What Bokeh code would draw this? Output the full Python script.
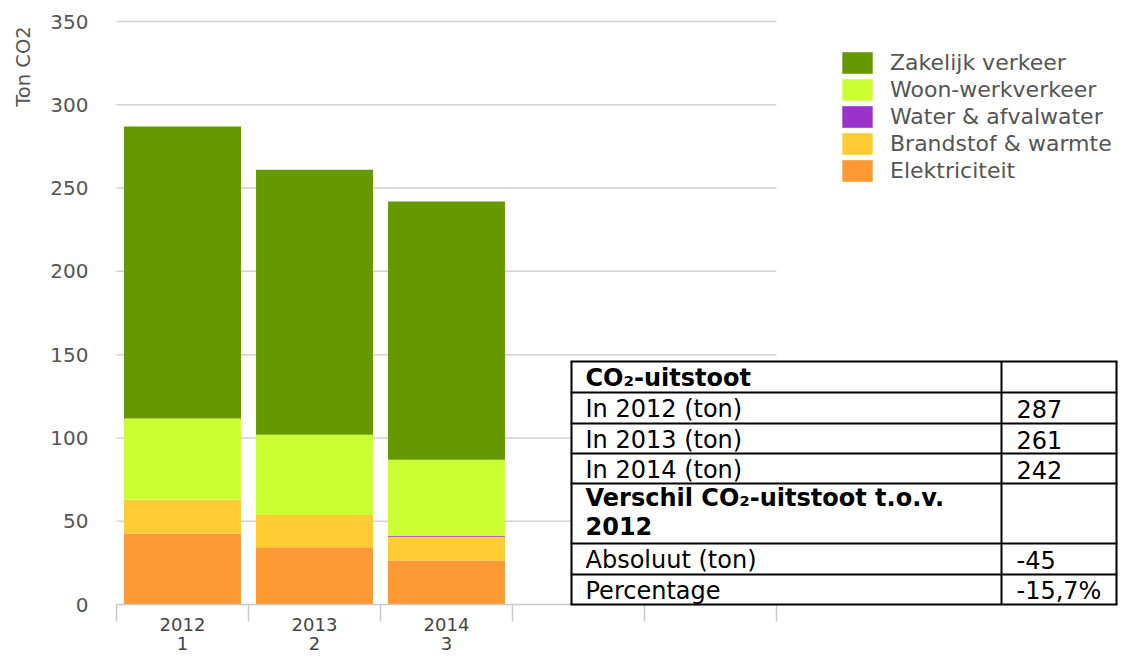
import math
from bokeh.plotting import figure
from bokeh.models import (Range1d, FixedTicker, Legend, LegendItem, ColumnDataSource,
                          Label, LinearAxis)
from bokeh.embed import file_html
from bokeh.resources import INLINE
from bokeh.core.properties import value

# ---------------- data ----------------
years = ["2012", "2013", "2014"]
year_index = ["1", "2", "3"]
n_slots = 5
series_names = ["Elektriciteit", "Brandstof & warmte", "Water & afvalwater",
                "Woon-werkverkeer", "Zakelijk verkeer"]
series_colors = ["#ff9933", "#ffcc33", "#9933cc", "#ccff33", "#669900"]
elektriciteit = [42.6, 34.4, 26.4]
brandstof = [20.4, 19.4, 14.3]
water = [0.0, 0.0, 0.6]
woon_werk = [48.6, 48.1, 45.6]
zakelijk = [175.4, 159.1, 155.1]
y_ticks = [0, 50, 100, 150, 200, 250, 300, 350]
y_title = "Ton CO2"

table_labels = ["CO\u2082-uitstoot", "In 2012 (ton)", "In 2013 (ton)", "In 2014 (ton)",
                "Verschil CO\u2082-uitstoot t.o.v.\n2012", "Absoluut (ton)", "Percentage"]
table_values = ["", "287", "261", "242", "", "-45", "-15,7%"]
table_bold = [True, False, False, False, True, False, False]

# ---------------- layout (screen px) ----------------
W, H = 1118, 655
X0_PX = 116          # left edge of first category slot
SLOT = 132.0         # px per category slot
Y0_PX, YTOP_PX = 604, 21
Y_MAX = 350
PPU = (Y0_PX - YTOP_PX) / Y_MAX

x_start = 0.5 - X0_PX / SLOT
x_end = 0.5 + (W - X0_PX) / SLOT
y_start = -(H - Y0_PX) / PPU
y_end = Y_MAX + YTOP_PX / PPU

def xd(px):
    return 0.5 + (px - X0_PX) / SLOT

def yd(py):
    return (Y0_PX - py) / PPU

FONT = "DejaVu Sans"
GRAY = "#555555"

p = figure(width=W, height=H, output_backend="svg", toolbar_location=None,
           x_range=Range1d(x_start, x_end), y_range=Range1d(y_start, y_end),
           x_axis_location=None, y_axis_location=None,
           min_border_left=0, min_border_top=0, min_border_right=0, min_border_bottom=0)
p.outline_line_color = None
p.xgrid.visible = False
p.ygrid.visible = False
p.background_fill_color = "white"
p.border_fill_color = "white"

# grid lines (only over the category slots)
gy = y_ticks[1:]
p.segment(x0=[0.5] * len(gy), x1=[n_slots + 0.5] * len(gy), y0=gy, y1=gy,
          line_color="#d2d2d2", line_width=1.5)

# stacked bars
xs = [i + 1 for i in range(len(years))]
src = ColumnDataSource(dict(x=xs, e=elektriciteit, b=brandstof, w=water,
                            ww=woon_werk, z=zakelijk))
rs = p.vbar_stack(["e", "b", "w", "ww", "z"], x="x", width=0.886, source=src,
                  fill_color=series_colors, line_color=None)

# x axis line + slot boundary ticks, fixed at y = 0
xa = LinearAxis(fixed_location=0)
xa.ticker = FixedTicker(ticks=xs, minor_ticks=[i + 0.5 for i in range(n_slots + 1)])
xa.bounds = (0.5, n_slots + 0.5)
xa.major_label_overrides = {x: "" for x in xs}
xa.major_tick_out = 0
xa.major_tick_in = 0
xa.major_tick_line_color = None
xa.minor_tick_out = 17
xa.minor_tick_in = 0
xa.minor_tick_line_color = "#c8c8c8"
xa.minor_tick_line_width = 1.5
xa.axis_line_color = "#c8c8c8"
xa.axis_line_width = 1.5
p.add_layout(xa, "below")

# category labels (two rows) under the slots
p.text(x=xs, y=[yd(624)] * len(xs), text=years, text_font=value(FONT),
       text_font_size="18px", text_color="#444444", text_align="center",
       text_baseline="middle")
p.text(x=xs, y=[yd(643)] * len(xs), text=year_index, text_font=value(FONT),
       text_font_size="18px", text_color="#444444", text_align="center",
       text_baseline="middle")

# y axis, fixed at the left edge of the slots
ya = LinearAxis(fixed_location=0.5)
ya.ticker = FixedTicker(ticks=y_ticks)
ya.axis_line_color = None
ya.major_tick_line_color = None
ya.minor_tick_line_color = None
ya.major_tick_out = 0
ya.major_tick_in = 0
ya.major_label_standoff = 28
ya.major_label_text_font = FONT
ya.major_label_text_font_size = "20px"
ya.major_label_text_color = GRAY
p.add_layout(ya, "left")

p.add_layout(Label(x=xd(23), y=yd(66), text=y_title, angle=math.pi / 2,
                   text_align="center", text_baseline="middle",
                   text_font=FONT, text_font_size="19.5px", text_color=GRAY))

# legend
items = [LegendItem(label=series_names[i], renderers=[rs[i]]) for i in reversed(range(5))]
LEG_LEFT, LEG_TOP, LEG_H = 838, 49, 135
legend = Legend(items=items, location=(LEG_LEFT, H - LEG_TOP - LEG_H), orientation="vertical",
                glyph_width=38, glyph_height=27, spacing=0, padding=0, margin=0,
                label_standoff=14, label_text_font=FONT, label_text_font_size="22px",
                label_text_color=GRAY, border_line_color=None, background_fill_alpha=0)
p.add_layout(legend)

# table overlay
t_left, t_div, t_right = 571, 1001, 1116
bounds = [361, 392, 423, 453, 483, 543, 574, 604]

bg = p.quad(left=[xd(t_left)], right=[xd(t_right)], top=[yd(bounds[0])], bottom=[yd(bounds[-1])],
            fill_color="white", line_color=None)
bg.level = "overlay"
hl = p.segment(x0=[xd(t_left - 1)] * len(bounds), x1=[xd(t_right + 1)] * len(bounds),
               y0=[yd(b) for b in bounds], y1=[yd(b) for b in bounds],
               line_color="black", line_width=2)
hl.level = "overlay"
vx = [t_left, t_div, t_right]
vl = p.segment(x0=[xd(v) for v in vx], x1=[xd(v) for v in vx],
               y0=[yd(bounds[0])] * 3, y1=[yd(bounds[-1])] * 3,
               line_color="black", line_width=2)
vl.level = "overlay"

PAD_L, PAD_R = 14, 15
TFONT = "24px"
for i, (lab, val, bold) in enumerate(zip(table_labels, table_values, table_bold)):
    top, bot = bounds[i], bounds[i + 1]
    lines = lab.split("\n")
    if len(lines) == 1:
        ys = [(top + bot) / 2 + 1]
    else:
        ys = [top + 14 + 28 * k for k in range(len(lines))]
    for ln, yy in zip(lines, ys):
        r = p.text(x=[xd(t_left + PAD_L)], y=[yd(yy)], text=[ln], text_font=value(FONT),
                   text_font_size=TFONT, text_font_style="bold" if bold else "normal",
                   text_color="black", text_baseline="middle", text_align="left")
        r.level = "overlay"
    if val:
        r = p.text(x=[xd(t_div + PAD_R)], y=[yd((top + bot) / 2 + 1)], text=[val],
                   text_font=value(FONT), text_font_size=TFONT, text_color="black",
                   text_baseline="middle", text_align="left")
        r.level = "overlay"

open("out.html", "w").write(file_html(p, INLINE))
